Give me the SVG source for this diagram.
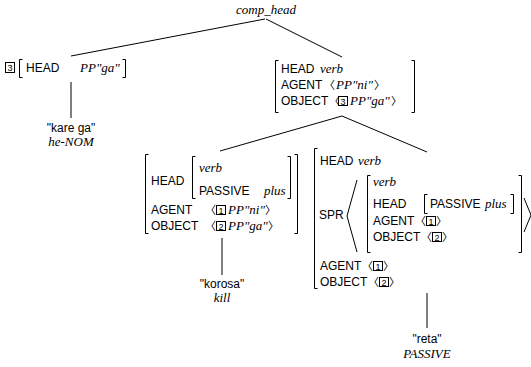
<svg xmlns="http://www.w3.org/2000/svg" width="531" height="367" viewBox="0 0 531 367">
<style>
.s{font-family:"Liberation Sans",Arial,sans-serif;font-size:12px;fill:#000}
.i{font-family:"Liberation Serif","Times New Roman",serif;font-style:italic;font-size:13px}
.a{font-family:"Noto Sans CJK JP","DejaVu Sans",sans-serif;font-size:11px}
.n{font-family:"Liberation Sans",Arial,sans-serif;font-size:9px;font-style:normal}
.b{fill:none;stroke:#000;stroke-width:1}
.c{fill:none;stroke:#000;stroke-width:1}
.m{text-anchor:middle}
</style>
<rect width="531" height="367" fill="#fff"/>
<g id="connectors">
<line class="c" x1="265" y1="19" x2="71" y2="56"/>
<line class="c" x1="266" y1="19" x2="342" y2="57"/>
<line class="c" x1="71" y1="82" x2="71" y2="118"/>
<line class="c" x1="342" y1="116" x2="220" y2="151"/>
<line class="c" x1="342" y1="116" x2="427" y2="152"/>
<line class="c" x1="222" y1="238" x2="222" y2="275"/>
<line class="c" x1="427" y1="293" x2="427" y2="328"/>
</g>
<g id="root">
<text class="i m" x="266" y="14">comp_head</text>
</g>
<g id="node-ga">
<rect class="b" x="5.5" y="62.5" width="9" height="10"/>
<path class="b" d="M22.5,59.5 H19.5 V77.5 H22.5"/>
<text class="s" x="7.5" y="71"><tspan class="n">3</tspan><tspan x="26" y="72">HEAD</tspan><tspan class="i" x="80">PP"ga"</tspan></text>
<path class="b" d="M122.5,59.5 H125.5 V77.5 H122.5"/>
</g>
<g id="leaf-karega">
<text class="s m" x="71" y="132">"kare ga"</text>
<text class="i m" x="71" y="146">he-NOM</text>
</g>
<g id="node-verb-top">
<path class="b" d="M278.5,60.5 H275.5 V112.5 H278.5"/>
<text class="s" x="281" y="73">HEAD<tspan class="i" x="320">verb</tspan></text>
<text class="s" x="281" y="89">AGENT<tspan class="a" x="324">〈</tspan><tspan class="i" x="336">PP"ni"</tspan><tspan class="a" x="374">〉</tspan></text>
<rect class="b" x="338.5" y="96.5" width="9" height="9"/>
<text class="s" x="281" y="105">OBJECT<tspan class="a" x="329">〈</tspan><tspan class="n" x="340.5" y="104.5">3</tspan><tspan class="i" x="350" y="105">PP"ga"</tspan><tspan class="a" x="391">〉</tspan></text>
<path class="b" d="M411.5,60.5 H414.5 V112.5 H411.5"/>
</g>
<g id="node-korosa">
<path class="b" d="M148.5,154.5 H145.5 V233.5 H148.5"/>
<path class="b" d="M195.5,156.5 H192.5 V198.5 H195.5"/>
<text class="s" x="151" y="185">HEAD</text>
<text class="i" x="199" y="172">verb</text>
<text class="s" x="199" y="195">PASSIVE<tspan class="i" x="264">plus</tspan></text>
<path class="b" d="M287.5,156.5 H290.5 V198.5 H287.5"/>
<path class="b" d="M294.5,154.5 H297.5 V233.5 H294.5"/>
<rect class="b" x="216.5" y="205.5" width="9" height="9"/>
<text class="s" x="151" y="214">AGENT<tspan class="a" x="205">〈</tspan><tspan class="n" x="218.5" y="213.5">1</tspan><tspan class="i" x="228" y="214">PP"ni"</tspan><tspan class="a" x="265">〉</tspan></text>
<rect class="b" x="216.5" y="221.5" width="9" height="9"/>
<text class="s" x="151" y="230">OBJECT<tspan class="a" x="205">〈</tspan><tspan class="n" x="218.5" y="229.5">2</tspan><tspan class="i" x="228" y="230">PP"ga"</tspan><tspan class="a" x="268">〉</tspan></text>
</g>
<g id="leaf-korosa">
<text class="s m" x="222" y="288">"korosa"</text>
<text class="i m" x="222" y="302">kill</text>
</g>
<g id="node-reta">
<path class="b" d="M317.5,148.5 H314.5 V288.5 H317.5"/>
<text class="s" x="320" y="165">HEAD<tspan class="i" x="358">verb</tspan></text>
<text class="s" x="319" y="219">SPR</text>
<path class="b" d="M357,180 L347,216 L357,252"/>
<path class="b" d="M370.5,175.5 H367.5 V252.5 H370.5"/>
<text class="i" x="373" y="186">verb</text>
<path class="b" d="M427.5,194.5 H424.5 V213.5 H427.5"/>
<text class="s" x="373" y="208">HEAD<tspan x="430">PASSIVE</tspan><tspan class="i" x="485">plus</tspan></text>
<path class="b" d="M510.5,194.5 H513.5 V213.5 H510.5"/>
<rect class="b" x="426.5" y="216.5" width="9" height="9"/>
<text class="s" x="373" y="225">AGENT<tspan class="a" x="415">〈</tspan><tspan class="n" x="428.5" y="224.5">1</tspan><tspan class="a" x="436" y="225">〉</tspan></text>
<rect class="b" x="432.5" y="232.5" width="9" height="9"/>
<text class="s" x="373" y="241">OBJECT<tspan class="a" x="421">〈</tspan><tspan class="n" x="434.5" y="240.5">2</tspan><tspan class="a" x="442" y="241">〉</tspan></text>
<path class="b" d="M518.5,175.5 H521.5 V252.5 H518.5"/>
<path class="b" d="M524,198 L531,215 L524,232"/>
<rect class="b" x="373.5" y="261.5" width="9" height="9"/>
<text class="s" x="320" y="270">AGENT<tspan class="a" x="362">〈</tspan><tspan class="n" x="375.5" y="269.5">1</tspan><tspan class="a" x="383" y="270">〉</tspan></text>
<rect class="b" x="379.5" y="277.5" width="9" height="9"/>
<text class="s" x="320" y="286">OBJECT<tspan class="a" x="368">〈</tspan><tspan class="n" x="381.5" y="285.5">2</tspan><tspan class="a" x="389" y="286">〉</tspan></text>
</g>
<g id="leaf-reta">
<text class="s m" x="427" y="343">"reta"</text>
<text class="i m" x="427" y="358">PASSIVE</text>
</g>
</svg>
